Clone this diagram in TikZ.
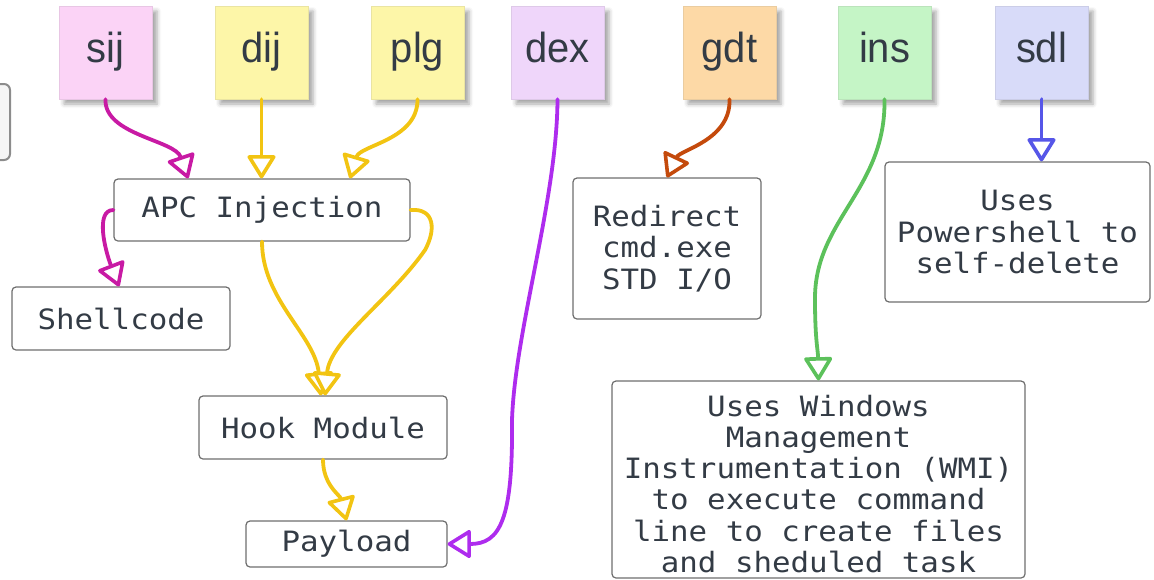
\documentclass[tikz,border=0pt]{standalone}
\usepackage{fontspec}
\newfontfamily\monofont[FakeStretch=1.1]{DejaVu Sans Mono}
\newfontfamily\stickyfont[FakeStretch=0.95]{Liberation Sans}
\usetikzlibrary{arrows.meta,shadows.blur,calc}

\definecolor{txt}{HTML}{333B45}
\definecolor{boxline}{HTML}{6E6E6E}
\definecolor{pinknote}{HTML}{FBD3F6}
\definecolor{yellownote}{HTML}{FDF6A8}
\definecolor{lilacnote}{HTML}{EFD6FA}
\definecolor{orangenote}{HTML}{FDD9A6}
\definecolor{greennote}{HTML}{C5F5C6}
\definecolor{bluenote}{HTML}{D8DBF9}
\definecolor{cmag}{HTML}{C81AA4}
\definecolor{cyel}{HTML}{F2C412}
\definecolor{cpur}{HTML}{AE2CEE}
\definecolor{corg}{HTML}{C44A0C}
\definecolor{cgrn}{HTML}{5CC15B}
\definecolor{cblu}{HTML}{5656E8}

\tikzset{
  sticky/.style={rectangle, inner sep=0pt, minimum width=93pt,
    text height=56pt, text depth=37pt, fill=#1, draw=#1!85!gray, line width=0.6pt,
    text=txt, font=\fontsize{42}{42}\selectfont\stickyfont,
    blur shadow={shadow xshift=5pt, shadow yshift=-5pt, shadow blur radius=4pt, shadow opacity=35}},
  box/.style={rectangle, draw=boxline, line width=1.2pt, rounded corners=4pt,
    fill=white, align=center, inner sep=0pt, text=txt,
    font=\fontsize{28}{31.3}\selectfont\monofont},
  conn/.style={line width=3.8pt, line cap=round,
    -{Triangle[width=30pt,length=25pt,fill=white,round,line width=3.6pt]}},
}

\begin{document}
\begin{tikzpicture}[x=1pt,y=-1pt]
\useasboundingbox (0,0) rectangle (1154,579);

% partially visible panel at the left edge
\draw[fill=black!4, draw=black!45, line width=2pt, rounded corners=6pt] (-30,84) rectangle (10,160);

% sticky notes
\node[sticky=pinknote]   (sij) at (105.5,52.5) {sij};
\node[sticky=yellownote] (dij) at (261.5,52.5) {dij};
\node[sticky=yellownote] (plg) at (417.5,52.5) {plg};
\node[sticky=lilacnote]  (dex) at (557.5,52.5) {dex};
\node[sticky=orangenote] (gdt) at (729.5,52.5) {gdt};
\node[sticky=greennote]  (ins) at (884.5,52.5) {ins};
\node[sticky=bluenote]   (sdl) at (1041.5,52.5) {sdl};

% boxes
\node[box, minimum width=296pt, minimum height=62pt]  (apc)   at (262,210)     {APC Injection};
\node[box, minimum width=218pt, minimum height=63pt]  (shell) at (121,318.5)   {Shellcode};
\node[box, minimum width=248pt, minimum height=63pt]  (hook)  at (323,427.5)   {Hook Module};
\node[box, minimum width=201pt, minimum height=46pt]  (pay)   at (346.5,544)   {Payload};
\node[box, minimum width=188pt, minimum height=141pt] (redir) at (667,248.5)   {Redirect\\cmd.exe\\STD I/O};
\node[box, minimum width=265pt, minimum height=140pt] (pows)  at (1017.5,232)  {Uses\\Powershell to\\self-delete};
\node[box, minimum width=413pt, minimum height=197pt] (wmi)   at (818.5,479.5)
  {\rule{0pt}{30pt}Uses Windows\\Management\\Instrumentation (WMI)\\to execute command\\line to create files\\and sheduled task};

% connectors
\draw[conn, cmag] (sij.south) .. controls (104,135) and (175,140) .. ([xshift=-74pt]apc.north);
\draw[conn, cyel] (dij.south) -- (dij.south |- apc.north);
\draw[conn, cyel] (plg.south) .. controls (418,140) and (360,145) .. ([xshift=88pt]apc.north);
\draw[conn, cpur] (dex.south) .. controls (557,200) and (515,330) .. (512,420)
                  .. controls (513,520) and (500,544) .. (pay.east);
\draw[conn, corg] (gdt.south) .. controls (731,140) and (680,150) .. (redir.north);
\draw[conn, cgrn] (ins.south) .. controls (886,190) and (814,220) .. (815,300)
                  .. controls (815,340) and (818,350) .. (wmi.north);
\draw[conn, cblu] (sdl.south) -- (sdl.south |- pows.north);
\draw[conn, cmag] (apc.west) .. controls (95,210) and (105,250) .. ([xshift=-2pt]shell.north);
\draw[conn, cyel] (apc.south) .. controls (262,300) and (315,335) .. ([xshift=-2pt]hook.north);
\draw[conn, cyel] (apc.east) .. controls (435,208) and (436,230) .. (425,250)
                  .. controls (390,300) and (330,340) .. ([xshift=2pt]hook.north);
\draw[conn, cyel] (hook.south) .. controls (323,485) and (340,495) .. (pay.north);
\end{tikzpicture}
\end{document}
